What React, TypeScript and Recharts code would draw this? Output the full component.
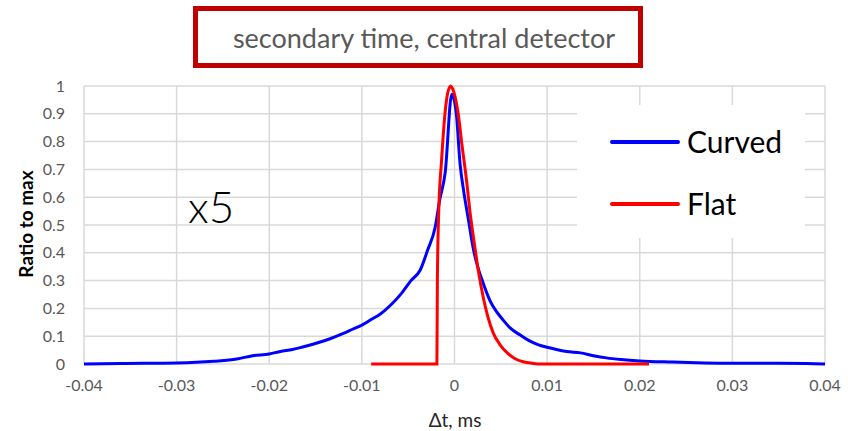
import { LineChart, Line, XAxis, YAxis, CartesianGrid } from 'recharts';

// Δt in ms and ratio to max
const curvedT = [
  -0.04, -0.036, -0.03, -0.026, -0.0235, -0.0218, -0.02, -0.0188, -0.0175, -0.0165,
  -0.0152, -0.0135, -0.012, -0.011, -0.01, -0.009, -0.008, -0.0068, -0.0057, -0.0047,
  -0.0037, -0.0029, -0.0021, -0.0016, -0.001, -0.0003, 0.0002, 0.0006, 0.001, 0.0015,
  0.002, 0.0025, 0.003, 0.0038, 0.0045, 0.0052, 0.006, 0.0071, 0.008, 0.009,
  0.01, 0.011, 0.0121, 0.0136, 0.015, 0.0164, 0.018, 0.02, 0.0236, 0.027,
  0.03, 0.035, 0.038, 0.04,
];
const curvedV = [
  0, 0.002, 0.004, 0.01, 0.018, 0.03, 0.036, 0.045, 0.052, 0.06,
  0.072, 0.09, 0.11, 0.125, 0.14, 0.16, 0.18, 0.215, 0.255, 0.3,
  0.338, 0.41, 0.49, 0.59, 0.69, 0.97, 0.9, 0.72, 0.62, 0.52,
  0.42, 0.35, 0.3, 0.23, 0.19, 0.16, 0.13, 0.104, 0.085, 0.07,
  0.06, 0.052, 0.045, 0.04, 0.03, 0.022, 0.016, 0.011, 0.007, 0.004,
  0.003, 0.003, 0.002, 0,
];

const flatT = [
  -0.009, -0.0019, -0.00185, -0.0017, -0.0014, -0.001, -0.0007, -0.0004, -0.0002, 0,
  0.0002, 0.0004, 0.0008, 0.0013, 0.0017, 0.0022, 0.0026, 0.0031, 0.0036, 0.0042,
  0.0049, 0.0057, 0.0065, 0.0074, 0.0085, 0.0095, 0.021,
];
const flatV = [
  0, 0, 0.3, 0.55, 0.73, 0.91, 0.98, 1.0, 0.99, 0.97,
  0.94, 0.9, 0.79, 0.66, 0.54, 0.42, 0.33, 0.24, 0.17, 0.11,
  0.07, 0.04, 0.02, 0.008, 0.002, 0, 0,
];

const xTicks = [-0.04, -0.03, -0.02, -0.01, 0, 0.01, 0.02, 0.03, 0.04];
const yTicks = [0, 0.1, 0.2, 0.3, 0.4, 0.5, 0.6, 0.7, 0.8, 0.9, 1];

const curvedData = curvedT.map((t, i) => ({ t, v: curvedV[i] }));
const flatData = flatT.map((t, i) => ({ t, v: flatV[i] }));

const FONT = 'Lato, "Open Sans", sans-serif';
const tickStyle = { fontSize: 16, fill: '#595959', fontFamily: FONT };

export default function App() {
  return (
    <div style={{ position: 'relative', width: 848, height: 431, background: '#fff', fontFamily: FONT }}>
      <style>{`body{margin:0}`}</style>
      <LineChart width={848} height={431} margin={{ top: 86, right: 23, bottom: 37, left: 44 }}>
        <CartesianGrid stroke="#d9d9d9" strokeWidth={1.5} />
        <XAxis
          dataKey="t"
          type="number"
          domain={[-0.04, 0.04]}
          ticks={xTicks}
          height={30}
          tickLine={false}
          tickSize={0}
          tickMargin={16}
          axisLine={false}
          tick={tickStyle}
          allowDuplicatedCategory={false}
        />
        <YAxis
          type="number"
          domain={[0, 1]}
          ticks={yTicks}
          width={40}
          tickLine={false}
          tickSize={0}
          tickMargin={19}
          axisLine={false}
          tick={tickStyle}
        />
        <Line data={curvedData} dataKey="v" type="monotone" stroke="#0000ff" strokeWidth={3} dot={false} isAnimationActive={false} />
        <Line data={flatData} dataKey="v" type="monotone" stroke="#ff0000" strokeWidth={3} dot={false} isAnimationActive={false} />
      </LineChart>

      {/* title box */}
      <div style={{
        position: 'absolute', left: 193, top: 6, width: 450, height: 62, boxSizing: 'border-box',
        border: '5px solid #c00000', display: 'flex', alignItems: 'center', justifyContent: 'center',
        color: '#595959', fontSize: 27, paddingLeft: 12,
      }}>
        secondary time, central detector
      </div>

      {/* legend */}
      <div style={{ position: 'absolute', left: 577, top: 105, width: 228, height: 133, background: '#fff' }}>
        <div style={{ position: 'absolute', left: 33, top: 35, width: 70, height: 4, borderRadius: 2, background: '#0000ff' }} />
        <div style={{ position: 'absolute', left: 110, top: 18, fontSize: 30, lineHeight: '36px', color: '#000' }}>Curved</div>
        <div style={{ position: 'absolute', left: 33, top: 97, width: 70, height: 4, borderRadius: 2, background: '#ff0000' }} />
        <div style={{ position: 'absolute', left: 110, top: 80, fontSize: 30, lineHeight: '36px', color: '#000' }}>Flat</div>
      </div>

      {/* x5 annotation */}
      <div style={{ position: 'absolute', left: 188, top: 180, fontSize: 44, fontWeight: 300, lineHeight: '52px', color: '#000' }}>x5</div>

      {/* axis titles */}
      <div style={{
        position: 'absolute', left: 25, top: 224, transform: 'translate(-50%, -50%) rotate(-90deg)',
        fontSize: 19, fontWeight: 700, whiteSpace: 'nowrap', color: '#000',
      }}>
        Ratio to max
      </div>
      <div style={{
        position: 'absolute', left: 455, top: 419, transform: 'translate(-50%, -50%)',
        fontSize: 19, whiteSpace: 'nowrap', color: '#262626',
      }}>
        Δt, ms
      </div>
    </div>
  );
}
